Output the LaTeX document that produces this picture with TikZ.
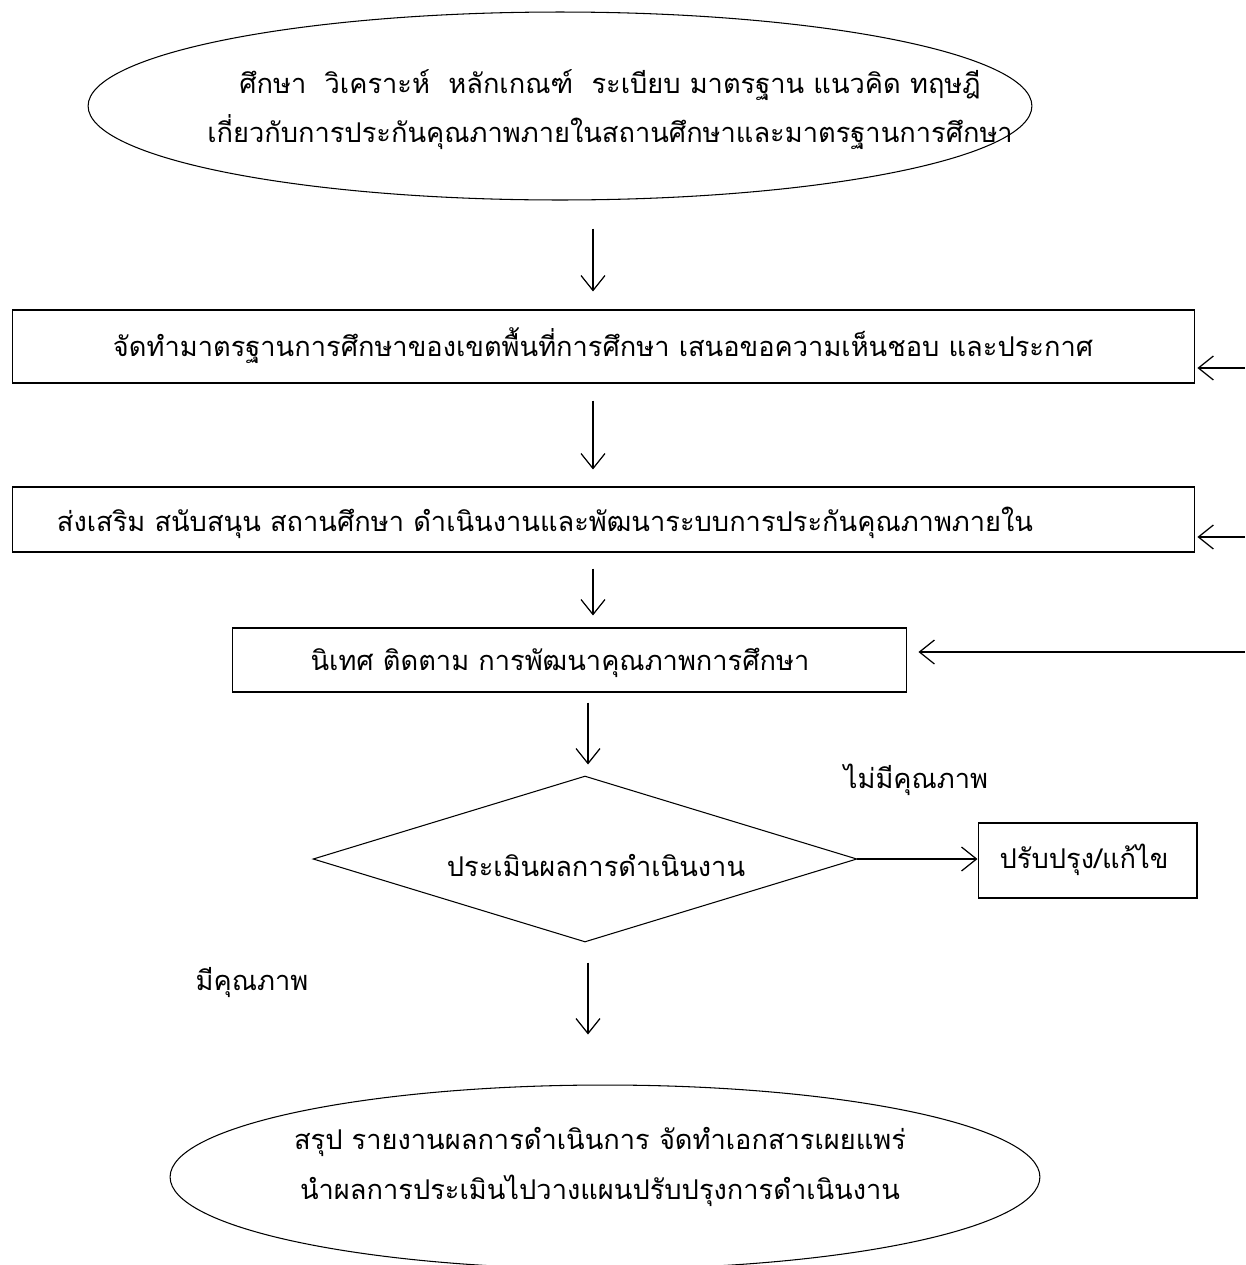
\documentclass[tikz,border=0pt]{standalone}
\usepackage{fontspec}
\newfontfamily\thaifont[Script=Thai]{Loma}
\usetikzlibrary{shapes.geometric, arrows.meta}

\begin{document}
\begin{tikzpicture}[x=0.02cm,y=-0.02cm]
\tikzstyle{every node}=[font=\thaifont\fontsize{15.5}{28}\selectfont]
\tikzstyle{stepbox}=[draw,line width=0.6pt,inner sep=0pt]
\tikzstyle{oval}=[ellipse,draw,line width=0.6pt,inner sep=0pt]
\tikzstyle{check}=[diamond,draw,line width=0.6pt,inner sep=0pt,aspect=3.28]
\tikzstyle{arr}=[line width=0.7pt,-{Straight Barb[length=3mm,width=4.8mm]}]

\useasboundingbox (0,0) rectangle (1245,1265);

%% Flow shapes
\node (study)[oval,minimum width=18.88cm,minimum height=3.76cm] at (560,106) {};
\node (standard)[stepbox,minimum width=23.66cm,minimum height=1.46cm] at (603.5,346.5) {};
\node (support)[stepbox,minimum width=23.66cm,minimum height=1.3cm] at (603.5,519.5) {};
\node (follow)[stepbox,minimum width=13.5cm,minimum height=1.28cm] at (569.5,660) {};
\node (assess)[check,minimum width=10.88cm,minimum height=3.32cm] at (585,859) {};
\node (improve)[stepbox,minimum width=4.38cm,minimum height=1.5cm] at (1087.5,860.5) {};
\node (report)[oval,minimum width=17.4cm,minimum height=3.68cm] at (605,1177) {};

%% texts
\node (studyT)[align=center] at (610,110)
    {ศึกษา\ \ วิเคราะห์\ \ หลักเกณฑ์\ \ ระเบียบ มาตรฐาน แนวคิด ทฤษฎี\\
     เกี่ยวกับการประกันคุณภาพภายในสถานศึกษาและมาตรฐานการศึกษา};
\node (standardT) at (603,346)
    {จัดทำมาตรฐานการศึกษาของเขตพื้นที่การศึกษา เสนอขอความเห็นชอบ และประกาศ};
\node (supportT) at (545,523)
    {ส่งเสริม สนับสนุน สถานศึกษา ดำเนินงานและพัฒนาระบบการประกันคุณภาพภายใน};
\node (followT) at (560,663) {นิเทศ ติดตาม การพัฒนาคุณภาพการศึกษา};
\node (assessT) at (596,865) {ประเมินผลการดำเนินงาน};
\node (improveT) at (1084,860) {ปรับปรุง/แก้ไข};
\node (reportT)[align=center] at (600,1167)
    {สรุป รายงานผลการดำเนินการ จัดทำเอกสารเผยแพร่\\
     นำผลการประเมินไปวางแผนปรับปรุงการดำเนินงาน};

%% labels
\node (nogood) at (916,780) {ไม่มีคุณภาพ};
\node (good) at (252,983) {มีคุณภาพ};

%% connectors
\coordinate (colA) at (593,0);
\coordinate (colB) at (588,0);
\draw[arr,shorten <=0.56cm,shorten >=0.36cm] (study.south -| colA) -- (standard.north -| colA);
\draw[arr,shorten <=0.34cm,shorten >=0.34cm] (standard.south -| colA) -- (support.north -| colA);
\draw[arr,shorten <=0.32cm,shorten >=0.24cm] (support.south -| colA) -- (follow.north -| colA);
\draw[arr,shorten <=0.2cm,shorten >=0.22cm] (follow.south -| colB) -- (assess.north -| colB);
\draw[arr,shorten <=0.4cm,shorten >=1cm] (assess.south -| colB) -- (report.north -| colB);
\draw[arr] (assess.east) -- (improve.west |- assess.east);

%% feedback from the right edge
\coordinate (back1) at (1245,368);
\coordinate (back2) at (1245,537);
\coordinate (back3) at (1245,652);
\draw[arr,shorten >=0.04cm] (back1) -- (standard.east |- back1);
\draw[arr,shorten >=0.04cm] (back2) -- (support.east |- back2);
\draw[arr,shorten >=0.22cm] (back3) -- (follow.east |- back3);
\end{tikzpicture}
\end{document}
